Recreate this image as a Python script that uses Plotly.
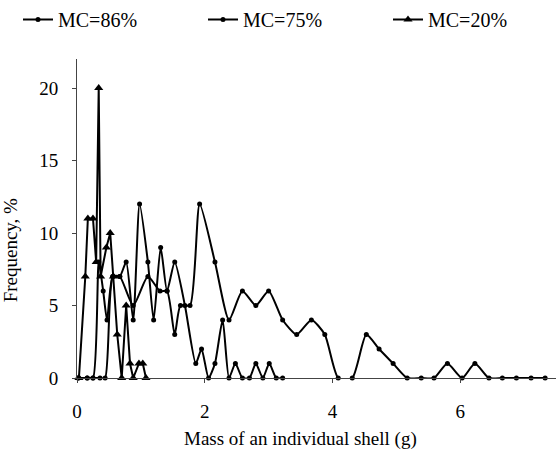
import plotly.graph_objects as go

# MC=86% (short tail)
x86 = [0.02, 0.16, 0.25, 0.34, 0.41, 0.47, 0.56, 0.67, 0.77, 0.88, 0.98, 1.11, 1.20, 1.31, 1.41, 1.53, 1.69,
       1.86, 1.95, 2.06, 2.16, 2.28, 2.38, 2.48, 2.59, 2.70, 2.80, 2.91, 3.01, 3.12, 3.22]
y86 = [0, 0, 0, 8, 6, 4, 7, 7, 8, 4, 12, 8, 4, 9, 6, 8, 5,
       1, 2, 0, 1, 4, 0, 1, 0, 0, 1, 0, 1, 0, 0]

# MC=75% (long tail)
x75 = [0.02, 0.16, 0.25, 0.36, 0.44, 0.56, 0.67, 0.88, 1.11, 1.30, 1.41, 1.53, 1.62, 1.77, 1.92,
       2.16, 2.38, 2.59, 2.80, 3.00, 3.22, 3.44, 3.67, 3.88, 4.09, 4.31, 4.53, 4.73, 4.95, 5.17,
       5.39, 5.59, 5.80, 6.03, 6.23, 6.45, 6.66, 6.88, 7.11, 7.33]
y75 = [0, 0, 0, 0, 0, 7, 7, 5, 7, 6, 6, 3, 5, 5, 12,
       8, 4, 6, 5, 6, 4, 3, 4, 3, 0, 0, 3, 2, 1, 0,
       0, 0, 1, 0, 1, 0, 0, 0, 0, 0]

# MC=20%
x20 = [0.03, 0.13, 0.17, 0.25, 0.30, 0.34, 0.37, 0.46, 0.52, 0.57, 0.63, 0.70, 0.77, 0.83, 0.88, 0.97, 1.03, 1.08]
y20 = [0, 7, 11, 11, 8, 20, 7, 9, 10, 7, 3, 0, 5, 1, 0, 1, 1, 0]

FONT = "Liberation Serif"

fig = go.Figure()
fig.add_trace(go.Scatter(x=x86, y=y86, name="MC=86%", mode="lines+markers", legend="legend",
                         line=dict(color="black", width=2, shape="spline", smoothing=0.6),
                         marker=dict(symbol="circle", size=5, color="black")))
fig.add_trace(go.Scatter(x=x75, y=y75, name="MC=75%", mode="lines+markers", legend="legend2",
                         line=dict(color="black", width=2, shape="spline", smoothing=0.6),
                         marker=dict(symbol="circle", size=5, color="black")))
fig.add_trace(go.Scatter(x=x20, y=y20, name="MC=20%", mode="lines+markers", legend="legend3",
                         line=dict(color="black", width=2),
                         marker=dict(symbol="triangle-up", size=8, color="black")))
fig.update_traces(cliponaxis=False)

def leg(xpos):
    return dict(orientation="h", x=xpos, y=1.0, xanchor="left", yanchor="top",
                xref="container", yref="container", bgcolor="rgba(0,0,0,0)",
                font=dict(family=FONT, size=20, color="black"), itemwidth=30)

fig.update_layout(
    width=556, height=453,
    margin=dict(l=77, r=0, t=59, b=75),
    paper_bgcolor="white", plot_bgcolor="white",
    font=dict(family=FONT, size=19, color="black"),
    showlegend=True,
    legend=leg(18 / 556),
    legend2=leg(203 / 556),
    legend3=leg(388 / 556),
    xaxis=dict(range=[0, 7.5], tickmode="array", tickvals=[0, 2, 4, 6],
               showgrid=False, zeroline=False, showline=True, linecolor="#444", linewidth=1,
               ticks="outside", ticklen=4, tickcolor="#444", ticklabelstandoff=12,
               tickfont=dict(family=FONT, size=19)),
    yaxis=dict(range=[0, 22], tickmode="array", tickvals=[0, 5, 10, 15, 20],
               showgrid=False, zeroline=False, showline=True, linecolor="#444", linewidth=1,
               ticks="outside", ticklen=4, tickcolor="#444", ticklabelstandoff=10,
               tickfont=dict(family=FONT, size=19)),
    annotations=[
        dict(text="Mass of an individual shell (g)", xref="paper", yref="paper",
             x=0.466, y=-0.19, xanchor="center", yanchor="middle", showarrow=False,
             font=dict(family=FONT, size=19)),
        dict(text="Frequency, %", xref="paper", yref="paper", textangle=-90,
             x=-0.14, y=0.4, xanchor="center", yanchor="middle", showarrow=False,
             font=dict(family=FONT, size=19)),
    ],
)

fig.write_html("out.html")
